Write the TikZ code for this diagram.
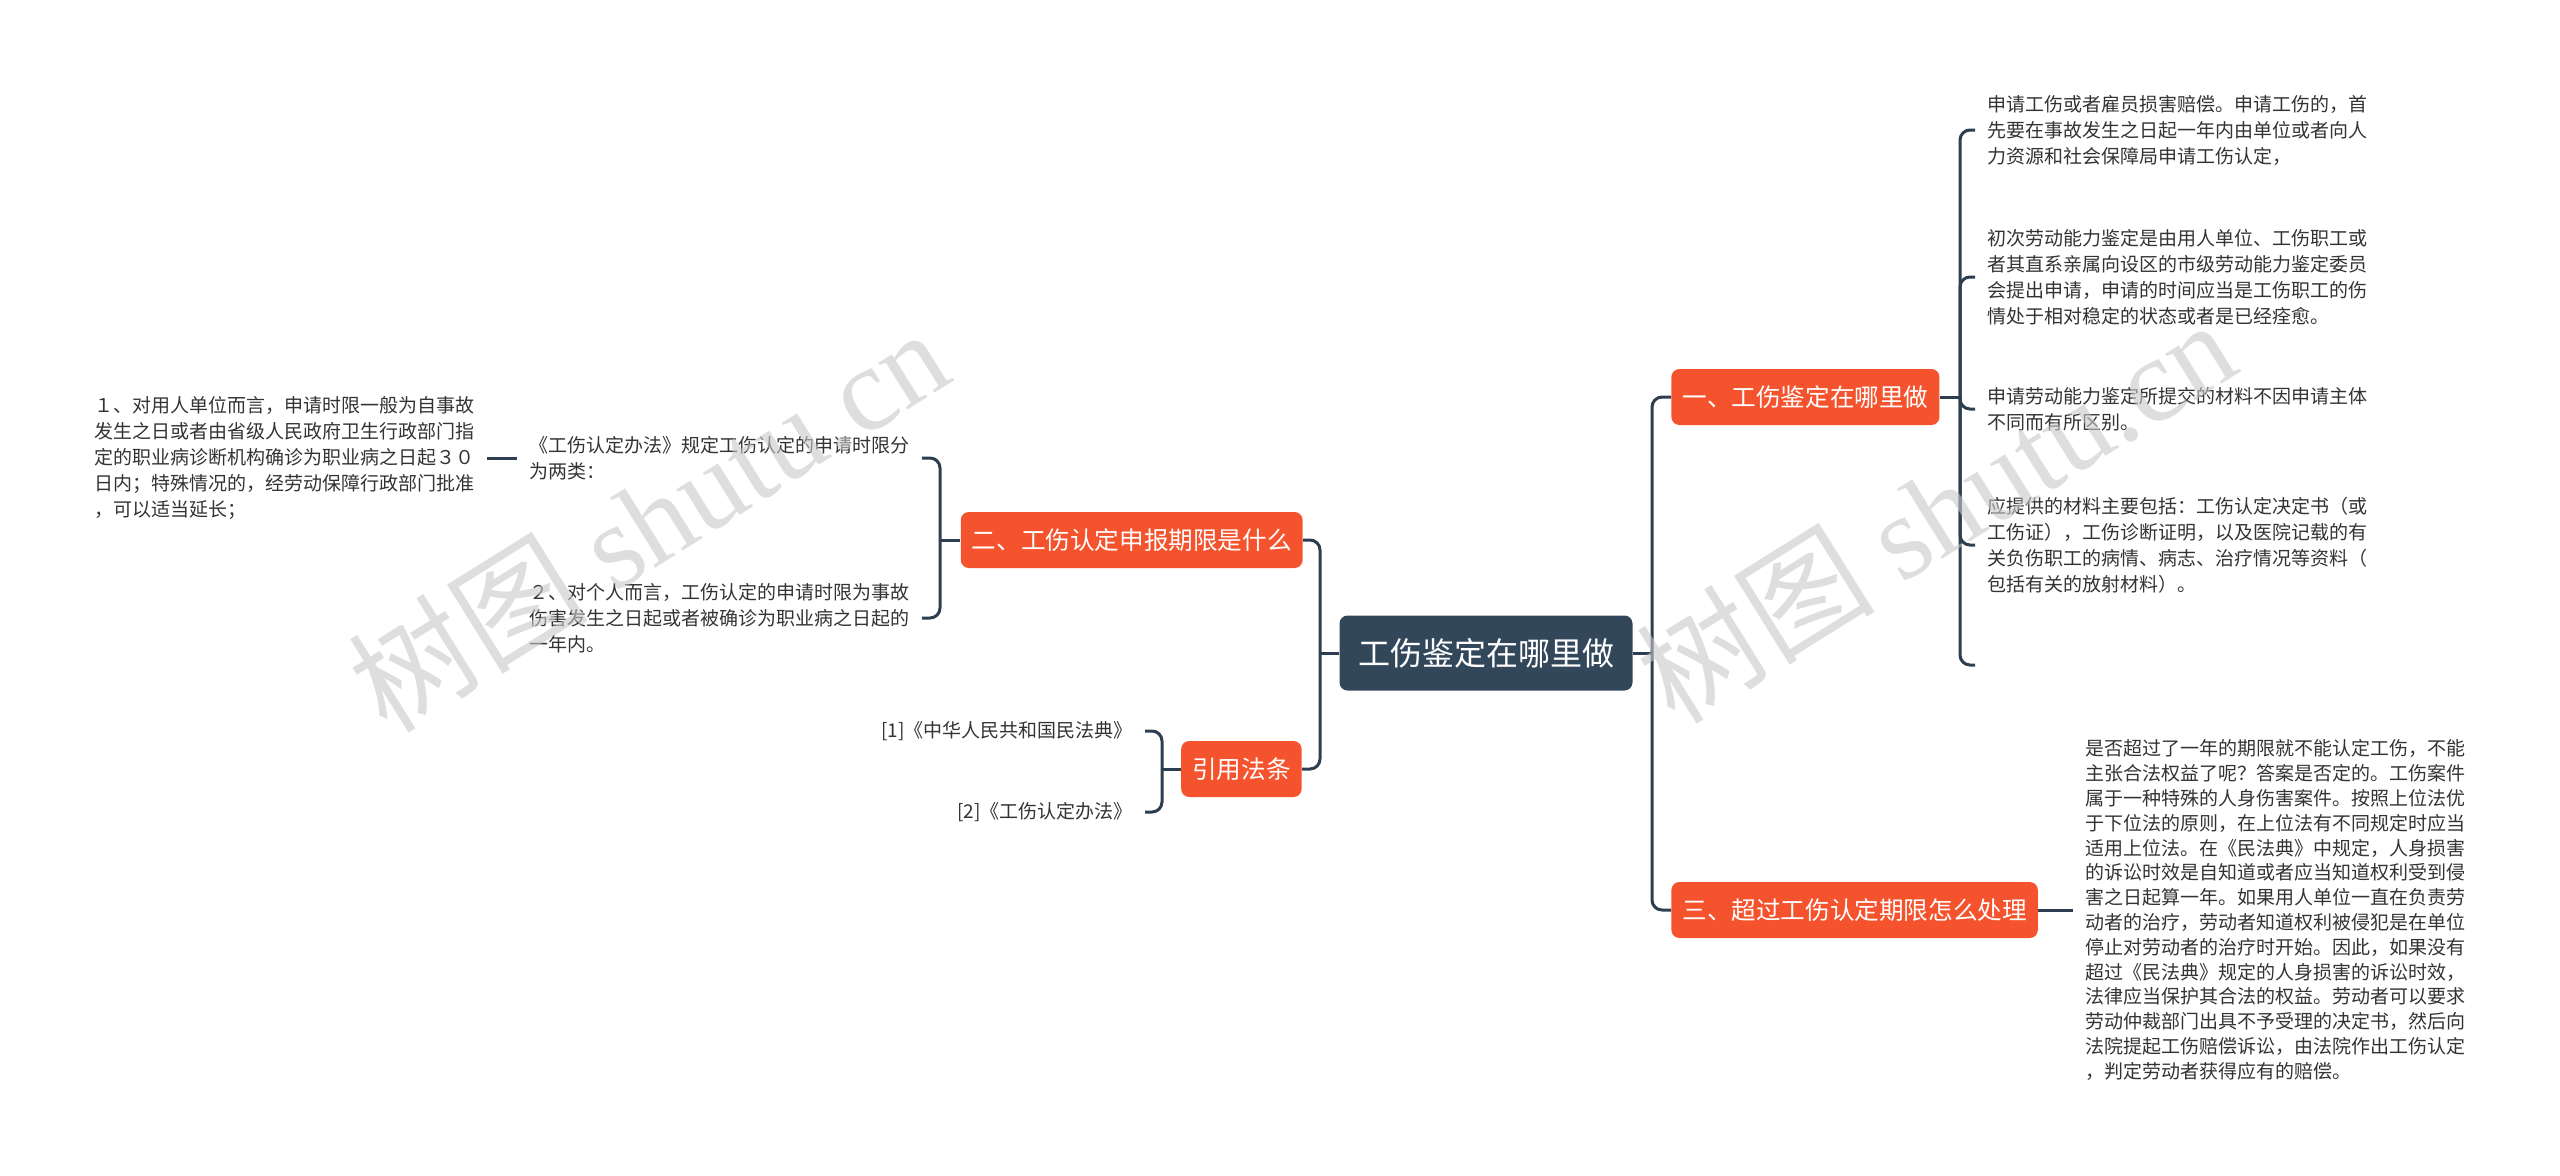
\documentclass[tikz,border=0pt]{standalone}
\usepackage{fontspec}
\setmainfont{Noto Sans CJK SC}
\newfontfamily\wmlatin{Liberation Serif}
\definecolor{branchred}{HTML}{F5532D}
\definecolor{rootblue}{HTML}{33475B}
\definecolor{linkgray}{HTML}{2C3E50}
\definecolor{leaftext}{HTML}{333333}
\definecolor{markgray}{HTML}{C8C8C8}
\tikzset{
  root/.style={fill=rootblue, rounded corners=4pt, text=white, font=\fontsize{16}{19}\selectfont, minimum width=146.5pt, minimum height=37.5pt, inner sep=0pt},
  branch/.style={fill=branchred, rounded corners=4pt, text=white, font=\fontsize{12.3}{15}\selectfont, minimum height=28pt, inner xsep=5.5pt, inner ysep=0pt},
  leaf/.style={text=leaftext, align=left, font=\fontsize{9.5}{13}\selectfont, inner xsep=6pt, inner ysep=0pt},
  longleaf/.style={leaf, font=\fontsize{9.5}{12.4}\selectfont},
  link/.style={draw=linkgray, line width=1.5pt, rounded corners=5pt},
  watermark/.style={text=markgray, opacity=0.6, rotate=32, font=\fontsize{60}{60}\selectfont}
}
\begin{document}
\begin{tikzpicture}[x=0.5pt, y=-0.5pt]
\useasboundingbox (0,0) rectangle (2560,1175);
% root
\node[root] (root) at (1486,653) {工伤鉴定在哪里做};
% branches
\node[branch, anchor=west] (where) at (1671,397) {一、工伤鉴定在哪里做};
\node[branch, anchor=east] (deadline) at (1303,540) {二、工伤认定申报期限是什么};
\node[branch, anchor=west] (overdue) at (1671,910) {三、超过工伤认定期限怎么处理};
\node[branch, anchor=east] (laws) at (1302,769) {引用法条};
% trunks
\coordinate (ltrunk) at (1320,653);
\coordinate (rtrunk) at (1652,653);
\draw[link] (root.west) -- (ltrunk);
\draw[link] (deadline.east) -| (ltrunk) |- (laws.east);
\draw[link] (root.east) -- (rtrunk);
\draw[link] (where.west) -| (rtrunk) |- (overdue.west);
% where leaves
\coordinate (wtrunk) at (1960,397);
\draw[link] (where.east) -- (wtrunk);
\node[leaf, anchor=west] (w1) at (1975,130) {申请工伤或者雇员损害赔偿。申请工伤的，首\\先要在事故发生之日起一年内由单位或者向人\\力资源和社会保障局申请工伤认定，};
\node[leaf, anchor=west] (w2) at (1975,277) {初次劳动能力鉴定是由用人单位、工伤职工或\\者其直系亲属向设区的市级劳动能力鉴定委员\\会提出申请，申请的时间应当是工伤职工的伤\\情处于相对稳定的状态或者是已经痊愈。};
\node[leaf, anchor=west] (w3) at (1975,409) {申请劳动能力鉴定所提交的材料不因申请主体\\不同而有所区别。};
\node[leaf, anchor=west] (w4) at (1975,545) {应提供的材料主要包括：工伤认定决定书（或\\工伤证），工伤诊断证明，以及医院记载的有\\关负伤职工的病情、病志、治疗情况等资料（\\包括有关的放射材料）。};
\coordinate (w5) at (1975,665);
\foreach \n in {w1,w2,w3,w4}
  \draw[link] (\n.west) -| (wtrunk);
\draw[link] (w5) -| (wtrunk);
% overdue leaf
\node[longleaf, anchor=west] (o1) at (2073,910) {是否超过了一年的期限就不能认定工伤，不能\\主张合法权益了呢？答案是否定的。工伤案件\\属于一种特殊的人身伤害案件。按照上位法优\\于下位法的原则，在上位法有不同规定时应当\\适用上位法。在《民法典》中规定，人身损害\\的诉讼时效是自知道或者应当知道权利受到侵\\害之日起算一年。如果用人单位一直在负责劳\\动者的治疗，劳动者知道权利被侵犯是在单位\\停止对劳动者的治疗时开始。因此，如果没有\\超过《民法典》规定的人身损害的诉讼时效，\\法律应当保护其合法的权益。劳动者可以要求\\劳动仲裁部门出具不予受理的决定书，然后向\\法院提起工伤赔偿诉讼，由法院作出工伤认定\\，判定劳动者获得应有的赔偿。};
\draw[link] (overdue.east) -- (o1.west);
% deadline leaves
\coordinate (dtrunk) at (940,540);
\draw[link] (deadline.west) -- (dtrunk);
\node[leaf, anchor=east] (d1) at (922,458) {《工伤认定办法》规定工伤认定的申请时限分\\为两类：};
\node[leaf, anchor=east] (d2) at (922,618) {２、对个人而言，工伤认定的申请时限为事故\\伤害发生之日起或者被确诊为职业病之日起的\\一年内。};
\foreach \n in {d1,d2}
  \draw[link] (\n.east) -| (dtrunk);
\node[leaf, anchor=east] (d11) at (487,458) {１、对用人单位而言，申请时限一般为自事故\\发生之日或者由省级人民政府卫生行政部门指\\定的职业病诊断机构确诊为职业病之日起３０\\日内；特殊情况的，经劳动保障行政部门批准\\，可以适当延长；};
\draw[link] (d1.west) -- (d11.east);
% law leaves
\coordinate (lawtrunk) at (1162,769);
\draw[link] (laws.west) -- (lawtrunk);
\node[leaf, anchor=east] (law1) at (1145,731) {[1]《中华人民共和国民法典》};
\node[leaf, anchor=east] (law2) at (1145,812) {[2]《工伤认定办法》};
\foreach \n in {law1,law2}
  \draw[link] (\n.east) -| (lawtrunk);
% watermarks
\node[watermark] (mark1) at (648,519) {树图 {\wmlatin shutu.cn}};
\node[watermark] (mark2) at (1935,510) {树图 {\wmlatin shutu.cn}};
\end{tikzpicture}
\end{document}
